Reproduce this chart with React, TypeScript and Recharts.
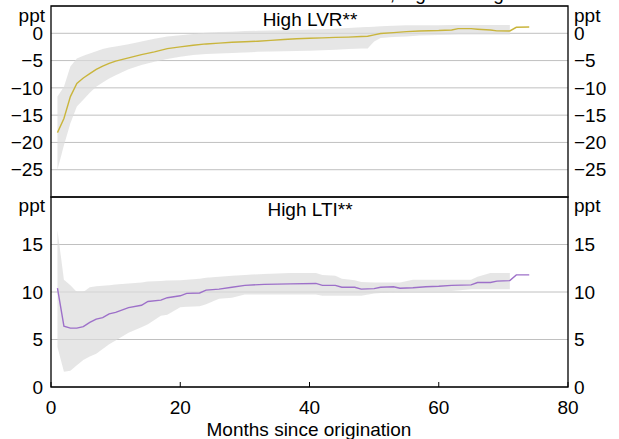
import { Area, CartesianGrid, ComposedChart, Line, ReferenceArea, XAxis, YAxis } from "recharts";

// High LVR panel (ppt), months since origination
const LVR_MONTHS = [1, 2, 3, 4, 5, 6, 7, 8, 9, 10, 12, 14, 16, 18, 20, 22, 24, 26, 28, 30, 32, 34, 36, 38, 40, 42, 44, 46, 48, 49, 50, 51, 53, 55, 57, 60, 62, 63, 65, 66, 68, 69, 71, 72, 74];
const LVR_EFFECT = [-18.2, -15.6, -11.6, -9.2, -8.2, -7.4, -6.6, -6.0, -5.5, -5.1, -4.5, -3.9, -3.4, -2.8, -2.5, -2.2, -1.95, -1.8, -1.65, -1.55, -1.45, -1.3, -1.15, -1.0, -0.9, -0.85, -0.75, -0.7, -0.6, -0.55, -0.3, -0.05, 0.12, 0.3, 0.43, 0.5, 0.6, 0.85, 0.85, 0.75, 0.6, 0.45, 0.43, 1.1, 1.15];
const LVR_UPPER = [-11.6, -9.8, -6.1, -4.6, -4.1, -3.7, -3.3, -2.9, -2.6, -2.4, -2.0, -1.5, -1.0, -0.6, -0.35, -0.15, 0.1, 0.25, 0.3, 0.4, 0.45, 0.5, 0.55, 0.6, 0.7, 0.75, 0.85, 0.95, 1.1, 1.15, 1.2, 1.3, 1.4, 1.45, 1.45, 1.45, 1.5, 1.5, 1.5, 1.5, 1.5, 1.5, 1.5, null, null];
const LVR_LOWER = [-25, -20.5, -16.5, -13.4, -12.2, -10.9, -9.8, -9.0, -8.3, -7.7, -6.6, -5.8, -5.2, -4.7, -4.3, -4.0, -3.8, -3.7, -3.6, -3.5, -3.4, -3.35, -3.3, -3.25, -3.2, -3.1, -3.0, -2.9, -2.8, -2.8, -1.5, -0.85, -0.7, -0.6, -0.4, -0.3, -0.25, -0.2, -0.2, -0.2, -0.2, -0.2, -0.2, null, null];

// High LTI panel (ppt)
const LTI_MONTHS = [1, 2, 3, 4, 5, 6, 7, 8, 9, 10, 12, 14, 15, 17, 18, 20, 21, 23, 24, 26, 28, 30, 33, 37, 41, 42, 44, 45, 47, 48, 50, 51, 53, 54, 56, 58, 60, 62, 65, 66, 68, 69, 71, 72, 74];
const LTI_EFFECT = [10.4, 6.4, 6.2, 6.2, 6.35, 6.8, 7.15, 7.3, 7.7, 7.85, 8.35, 8.6, 9.0, 9.15, 9.4, 9.6, 9.85, 9.9, 10.2, 10.3, 10.5, 10.7, 10.8, 10.85, 10.9, 10.7, 10.7, 10.5, 10.5, 10.3, 10.35, 10.5, 10.55, 10.4, 10.45, 10.55, 10.6, 10.7, 10.75, 11.0, 11.0, 11.15, 11.2, 11.8, 11.8];
const LTI_UPPER = [16.5, 11.3, 10.7, 10.0, 10.0, 10.5, 10.6, 10.65, 10.7, 10.8, 10.9, 11.0, 11.1, 11.15, 11.2, 11.25, 11.3, 11.4, 11.5, 11.6, 11.7, 11.8, 11.9, 12.0, 12.0, 11.8, 11.7, 11.4, 11.25, 11.05, 11.0, 11.0, 11.0, 11.0, 11.3, 11.3, 11.3, 11.3, 11.3, 11.6, 12.0, 12.0, 12.0, null, null];
const LTI_LOWER = [4.2, 1.6, 1.7, 2.3, 2.85, 3.2, 3.5, 4.0, 4.5, 4.9, 5.7, 6.3, 6.6, 7.5, 7.6, 8.4, 8.45, 8.5, 8.7, 9.3, 9.4, 9.75, 9.75, 9.75, 9.75, 9.6, 9.6, 9.6, 9.6, 9.6, 9.85, 9.9, 10.0, 10.05, 10.1, 10.1, 10.1, 10.1, 10.3, 10.3, 10.3, 10.3, 10.3, null, null];

const X_TICKS = [0, 20, 40, 60, 80];
const LVR_TICKS = [-25, -20, -15, -10, -5, 0];
const LTI_TICKS = [0, 5, 10, 15];

const FONT = "'Liberation Sans', Arial, sans-serif";
const FS = 19;
const tickStyle = { fontSize: FS, fill: "#000", fontFamily: FONT };
const minus = (v: number) => String(v).replace("-", "\u2212");

type Row = { month: number; effect: number; band: [number, number] | null };

const toRows = (months: number[], effect: number[], lower: (number | null)[], upper: (number | null)[]): Row[] =>
  months.map((m, i) => ({
    month: m,
    effect: effect[i],
    band: lower[i] == null || upper[i] == null ? null : [lower[i] as number, upper[i] as number],
  }));

type PanelProps = {
  rows: Row[];
  domain: [number, number];
  ticks: number[];
  color: string;
  height: number;
  marginTop: number;
  marginBottom: number;
  bottomLabels: boolean;
};

function Panel({ rows, domain, ticks, color, height, marginTop, marginBottom, bottomLabels }: PanelProps) {
  return (
    <ComposedChart width={619} height={height} data={rows} margin={{ top: marginTop, right: 0, bottom: marginBottom, left: 0 }}>
      <XAxis
        xAxisId="b"
        dataKey="month"
        type="number"
        domain={[0, 80]}
        ticks={X_TICKS}
        interval={0}
        axisLine={false}
        tickLine={{ stroke: "#000" }}
        tickSize={-5}
        tickMargin={19}
        tick={bottomLabels ? tickStyle : false}
        height={bottomLabels ? 52 : 0}
      />
      <XAxis
        xAxisId="t"
        orientation="top"
        dataKey="month"
        type="number"
        domain={[0, 80]}
        ticks={X_TICKS}
        interval={0}
        axisLine={false}
        tickLine={{ stroke: "#000" }}
        tickSize={-5}
        tick={false}
        height={0}
      />
      <YAxis
        yAxisId="l"
        type="number"
        domain={domain}
        ticks={ticks}
        interval={0}
        width={51}
        axisLine={false}
        tickLine={false}
        tickSize={6}
        tickMargin={2}
        tick={tickStyle}
        tickFormatter={minus}
      />
      <YAxis
        yAxisId="r"
        orientation="right"
        type="number"
        domain={domain}
        ticks={ticks}
        interval={0}
        width={51}
        axisLine={false}
        tickLine={false}
        tickSize={4}
        tickMargin={2}
        tick={tickStyle}
        tickFormatter={minus}
      />
      <CartesianGrid xAxisId="b" yAxisId="l" vertical={false} stroke="#c0c0c0" strokeWidth={1} />
      <Area
        xAxisId="b"
        yAxisId="l"
        dataKey="band"
        type="linear"
        stroke="none"
        fill="#dcdcdc"
        fillOpacity={0.7}
        isAnimationActive={false}
      />
      {/* mirror series so the top x axis and right y axis are bound to data */}
      <Line
        xAxisId="t"
        yAxisId="r"
        dataKey="effect"
        type="linear"
        stroke="none"
        dot={false}
        isAnimationActive={false}
      />
      <Line
        xAxisId="b"
        yAxisId="l"
        dataKey="effect"
        type="linear"
        stroke={color}
        strokeWidth={1.4}
        dot={false}
        isAnimationActive={false}
      />
      <ReferenceArea
        xAxisId="b"
        yAxisId="l"
        x1={0}
        x2={80}
        y1={domain[0]}
        y2={domain[1]}
        fill="none"
        stroke="#000"
        strokeWidth={1.3}
        ifOverflow="visible"
      />
    </ComposedChart>
  );
}

export default function App() {
  const lvrRows = toRows(LVR_MONTHS, LVR_EFFECT, LVR_LOWER, LVR_UPPER);
  const ltiRows = toRows(LTI_MONTHS, LTI_EFFECT, LTI_LOWER, LTI_UPPER);
  return (
    <div style={{ position: "absolute", left: 0, top: 0, width: 619, height: 439, background: "#fff", fontFamily: FONT, overflow: "hidden" }}>
      <div style={{ position: "absolute", left: 0, top: 0 }}>
        <Panel rows={lvrRows} domain={[-30, 5]} ticks={LVR_TICKS} color="#c9b53c" height={200} marginTop={6} marginBottom={3} bottomLabels={false} />
      </div>
      <div style={{ position: "absolute", left: 0, top: 190 }}>
        <Panel rows={ltiRows} domain={[0, 20]} ticks={LTI_TICKS} color="#9d70c9" height={249} marginTop={7} marginBottom={0} bottomLabels={true} />
      </div>
      <svg width={619} height={439} style={{ position: "absolute", left: 0, top: 0, pointerEvents: "none" }} fontFamily={FONT} fontSize={FS} fill="#000">
        <text x={180} y={-0.5}>Difference in arrears rate, high leverage loans</text>
        <text x={45} y={21.5} textAnchor="end">ppt</text>
        <text x={574} y={21.5}>ppt</text>
        <text x={310} y={26} textAnchor="middle">High LVR**</text>
        <text x={45} y={212} textAnchor="end">ppt</text>
        <text x={574} y={212}>ppt</text>
        <text x={310} y={216} textAnchor="middle">High LTI**</text>
        <text x={309} y={436} textAnchor="middle">Months since origination</text>
      </svg>
    </div>
  );
}
